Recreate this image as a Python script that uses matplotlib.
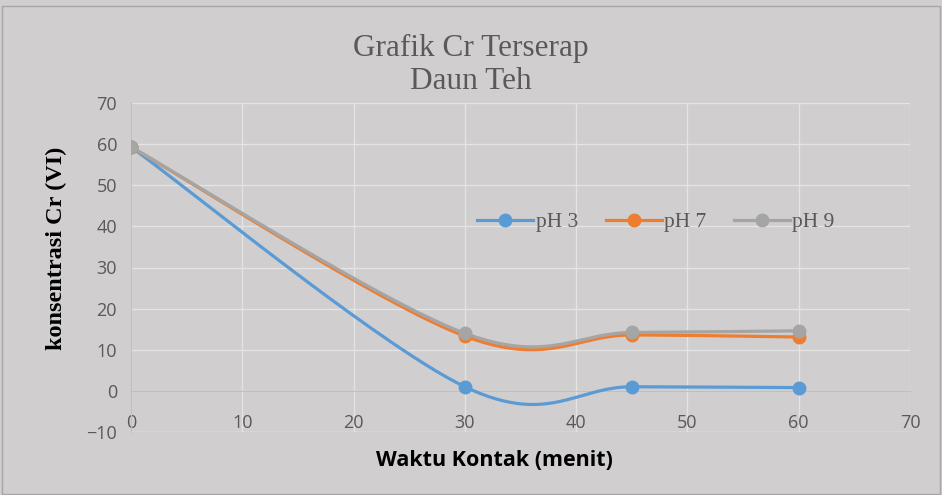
import numpy as np
import matplotlib.pyplot as plt
from matplotlib.lines import Line2D
from matplotlib.patches import Rectangle

# data
waktu = [0, 30, 45, 60]
ph3 = [59.3, 1.0, 1.0, 0.8]
ph7 = [59.3, 13.3, 13.6, 13.1]
ph9 = [59.3, 14.0, 14.2, 14.6]
series_labels = ["pH 3", "pH 7", "pH 9"]
series_colors = ["#5B9BD5", "#ED7D31", "#A5A5A5"]

BG = "#D0CECE"
TEXT_GRAY = "#595959"


def smooth(x, y, n=60):
    """Excel-style smoothed line: cubic Bezier with Catmull-Rom control points."""
    x = np.asarray(x, float)
    y = np.asarray(y, float)
    px = np.concatenate([[x[0]], x, [x[-1]]])
    py = np.concatenate([[y[0]], y, [y[-1]]])
    xs, ys = [], []
    t = np.linspace(0, 1, n)
    for i in range(1, len(px) - 2):
        p0 = np.array([px[i], py[i]])
        p3 = np.array([px[i + 1], py[i + 1]])
        c1 = p0 + (np.array([px[i + 1], py[i + 1]]) - np.array([px[i - 1], py[i - 1]])) / 6
        c2 = p3 - (np.array([px[i + 2], py[i + 2]]) - np.array([px[i], py[i]])) / 6
        b = ((1 - t) ** 3)[:, None] * p0 + (3 * (1 - t) ** 2 * t)[:, None] * c1 \
            + (3 * (1 - t) * t ** 2)[:, None] * c2 + (t ** 3)[:, None] * p3
        xs.extend(b[:, 0])
        ys.extend(b[:, 1])
    return np.array(xs), np.array(ys)


fig = plt.figure(figsize=(9.42, 4.95), dpi=100, facecolor=BG)
ax = fig.add_axes([131 / 942, 1 - 432 / 495, (910 - 131) / 942, (432 - 103) / 495])
ax.set_facecolor(BG)

# draw order: pH 3, pH 7, pH 9 (grey on top like the reference)
for vals, lab, col in zip([ph3, ph7, ph9], series_labels, series_colors):
    sx, sy = smooth(waktu, vals)
    ax.plot(sx, sy, color=col, linewidth=2.3, solid_capstyle="round", zorder=3)
    ax.plot(waktu, vals, linestyle="none", marker="o", markersize=9,
            color=col, zorder=4)

ax.set_xlim(0, 70)
ax.set_ylim(-10, 70)
ax.set_xticks(range(0, 71, 10))
ax.set_yticks(range(-10, 71, 10))
ax.grid(True, color="#E4E4E4", linewidth=1)
ax.set_axisbelow(True)

for s in ["top", "right"]:
    ax.spines[s].set_visible(False)
ax.spines["bottom"].set_position(("data", 0))
ax.spines["bottom"].set_color("#BFBFBF")
ax.spines["left"].set_color("#BFBFBF")
ax.spines["bottom"].set_zorder(2)
ax.tick_params(axis="both", length=0, labelsize=13, labelcolor=TEXT_GRAY,
               labelfontfamily="Open Sans")
ax.tick_params(axis="x", pad=17)
ax.tick_params(axis="y", pad=10)
ax.axhline(-10, color="#E4E4E4", linewidth=1, zorder=0)

ax.set_xlabel("Waktu Kontak (menit)", fontsize=15.5, fontweight="bold",
              family="Open Sans", va="center")
ax.xaxis.set_label_coords((494 - 131) / 779, -0.088)
ax.set_ylabel("konsentrasi Cr (VI)", fontsize=17.5, fontweight="bold",
              family="Liberation Serif", va="center")
ax.yaxis.set_label_coords(-(131 - 56) / 779, (432 - 248) / 329)

fig.text(0.5, 1 - 65 / 495, "Grafik Cr Terserap\nDaun Teh", ha="center", va="center",
         fontsize=22.5, color=TEXT_GRAY, family="Liberation Serif", linespacing=1.15)

handles = [Line2D([0], [0], color=c, linewidth=2.3, marker="o", markersize=9)
           for c in series_colors]
ax.legend(handles, series_labels, loc="center", bbox_to_anchor=(0.674, 0.638),
          ncol=3, frameon=False, handlelength=2.6, handletextpad=0.1,
          columnspacing=1.3, prop={"family": "Liberation Serif", "size": 15.5},
          labelcolor=TEXT_GRAY)

fig.patches.append(Rectangle((0.002, 0.003), 0.996, 0.985, transform=fig.transFigure,
                             fill=False, edgecolor="#A6A6A6", linewidth=1))

fig.savefig("out.png", dpi=100, facecolor=BG)
